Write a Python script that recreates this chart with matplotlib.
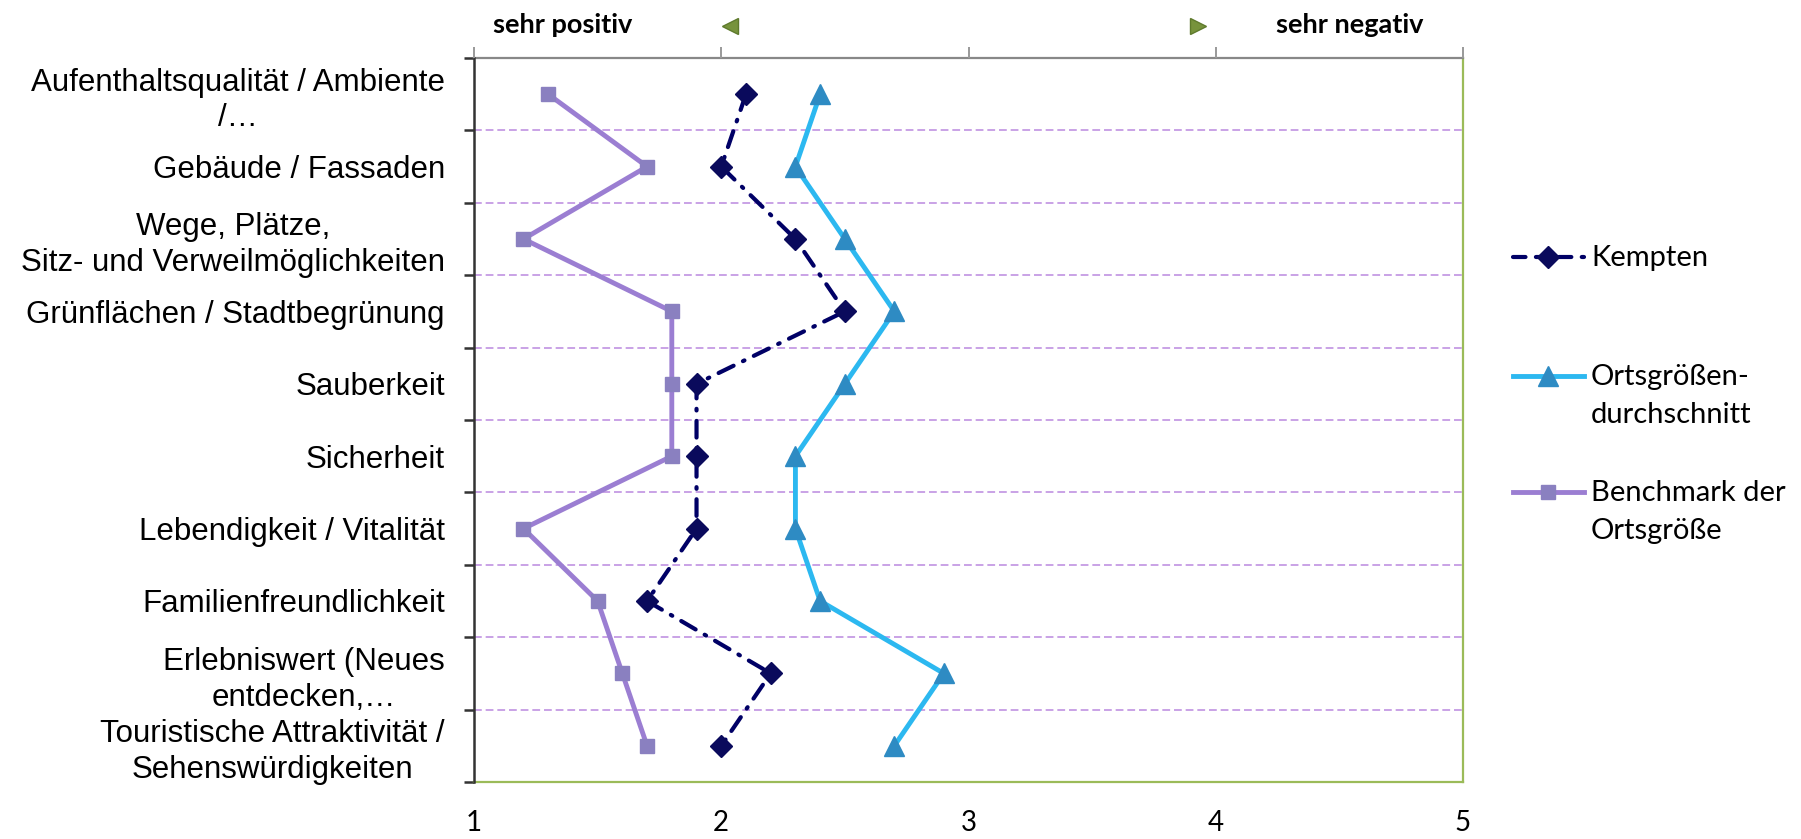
import matplotlib
matplotlib.use('Agg')
import matplotlib.pyplot as plt
from matplotlib.lines import Line2D
import numpy as np

categories = [
    'Aufenthaltsqualität / Ambiente\n/…',
    'Gebäude / Fassaden',
    'Wege, Plätze,\nSitz- und Verweilmöglichkeiten',
    'Grünflächen / Stadtbegrünung',
    'Sauberkeit',
    'Sicherheit',
    'Lebendigkeit / Vitalität',
    'Familienfreundlichkeit',
    'Erlebniswert (Neues\nentdecken,…',
    'Touristische Attraktivität /\nSehenswürdigkeiten',
]
kempten = [2.1, 2.0, 2.3, 2.5, 1.9, 1.9, 1.9, 1.7, 2.2, 2.0]
ortsgroesse = [2.4, 2.3, 2.5, 2.7, 2.5, 2.3, 2.3, 2.4, 2.9, 2.7]
benchmark = [1.3, 1.7, 1.2, 1.8, 1.8, 1.8, 1.2, 1.5, 1.6, 1.7]
xticks = [1, 2, 3, 4, 5]
legend_labels = ['Kempten', 'Ortsgrößen-\ndurchschnitt', 'Benchmark der\nOrtsgröße']

fig = plt.figure(figsize=(18.01, 8.39), dpi=100)
ax = fig.add_axes([474 / 1801, 57 / 839, 989 / 1801, 724 / 839])

y = np.arange(len(categories)) + 0.5

# series
ax.plot(benchmark, y, color='#9B7ED2', lw=3.5, marker='s', ms=10,
        mfc='#8A80C0', mec='#8A80C0', zorder=3)
ax.plot(ortsgroesse, y, color='#2CB8F0', lw=3.5, marker='^', ms=15,
        mfc='#2E8BC3', mec='#2E8BC3', zorder=3)
ax.plot(kempten, y, color='#000066', lw=3, ls=(0, (4, 2.5, 0.4, 2.5)),
        dash_capstyle='round', marker='D', ms=11, mfc='#0A0A5C', mec='#0A0A5C',
        zorder=4)

ax.set_xlim(1, 5)
ax.set_ylim(len(categories), 0)

# category labels between ticks
ax.set_yticks(np.arange(len(categories) + 1))
ax.set_yticklabels([])
ax.set_yticks(y, minor=True)
ax.set_yticklabels(categories, minor=True, fontsize=22.5, family='Liberation Sans',
                   multialignment='center', linespacing=1.25)
ax.tick_params(axis='y', which='major', direction='out', length=7, width=1.8,
               color='#333333')
ax.tick_params(axis='y', which='minor', length=0, pad=21)

for b in range(1, len(categories)):
    ax.axhline(b, color='#C9A2E6', lw=1.4, ls=(0, (4, 2)), zorder=1)

ax.set_xticks(xticks)
ax.set_xticklabels([str(t) for t in xticks], fontsize=20, family='Lato')
ax.tick_params(axis='x', length=0, pad=20)

ax.spines['left'].set_color('#333333')
ax.spines['left'].set_linewidth(1.8)
ax.spines['left'].set_zorder(5)
ax.spines['top'].set_color('#888888')
ax.spines['top'].set_linewidth(1.6)
ax.spines['bottom'].set_color('#9BBB59')
ax.spines['bottom'].set_linewidth(1.6)
ax.spines['right'].set_color('#9BBB59')
ax.spines['right'].set_linewidth(1.6)

# top axis ticks
top = ax.twiny()
top.set_xlim(1, 5)
top.set_xticks(xticks)
top.set_xticklabels([])
top.tick_params(axis='x', direction='out', length=8, width=1.4, color='#999999')
for s in top.spines.values():
    s.set_visible(False)

tr = ax.get_xaxis_transform()
ax.text(1.36, 1.046, 'sehr positiv', transform=tr, ha='center', va='center',
        fontsize=19.5, family='Lato', fontweight='bold', clip_on=False)
ax.text(4.54, 1.046, 'sehr negativ', transform=tr, ha='center', va='center',
        fontsize=19.5, family='Lato', fontweight='bold', clip_on=False)
ax.plot([2.035], [1.044], transform=tr, marker='<', ms=12, color='#77933C',
        mec='#5E7A2C', clip_on=False)
ax.plot([3.93], [1.044], transform=tr, marker='>', ms=12, color='#77933C',
        mec='#5E7A2C', clip_on=False)

# legend drawn by hand so marker sits at first text line
leg_lines = [
    dict(color='#000066', lw=3, ls=(0, (3, 2.5)), dash_capstyle='round'),
    dict(color='#2CB8F0', lw=3.5),
    dict(color='#9B7ED2', lw=3.5),
]
leg_marks = [
    dict(marker='D', ms=11, mfc='#0A0A5C', mec='#0A0A5C'),
    dict(marker='^', ms=15, mfc='#2E8BC3', mec='#2E8BC3'),
    dict(marker='s', ms=10, mfc='#8A80C0', mec='#8A80C0'),
]
leg_y = [257, 376, 492]
for ls_, mk_, lab, yy in zip(leg_lines, leg_marks, legend_labels, leg_y):
    fy = 1 - yy / 839
    fig.add_artist(Line2D([1513 / 1801, 1584 / 1801], [fy, fy],
                          transform=fig.transFigure, **ls_))
    fig.add_artist(Line2D([1548 / 1801], [fy], transform=fig.transFigure,
                          ls='none', **mk_))
    fig.text(1591 / 1801, fy + 12 / 839, lab, ha='left', va='top', fontsize=21,
             family='Lato', linespacing=1.55)

fig.savefig('out.png', dpi=100)
